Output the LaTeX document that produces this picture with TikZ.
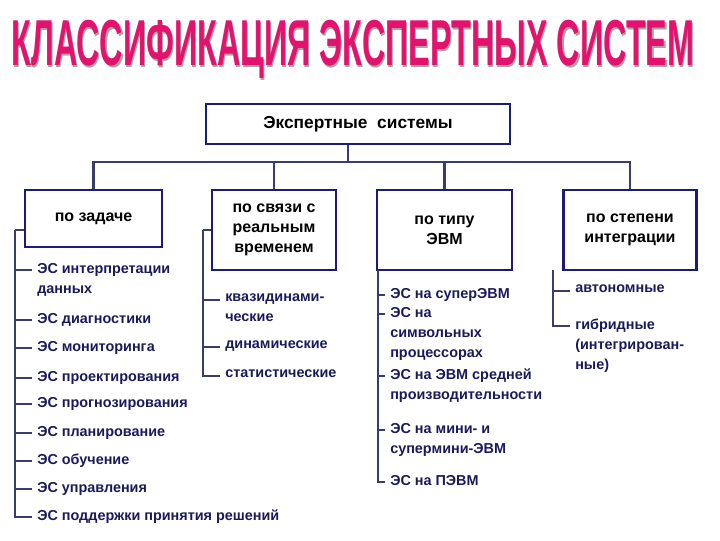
\documentclass[tikz,border=0pt]{standalone}
\usepackage{fontspec}
\setmainfont{Liberation Sans}
\usetikzlibrary{calc}
\definecolor{navy}{HTML}{1C1C78}
\definecolor{wire}{HTML}{3C3C6C}
\definecolor{itemc}{HTML}{1A1A5A}
\definecolor{pinkc}{HTML}{E3126E}

\begin{document}
\begin{tikzpicture}[
  x=0.75pt, y=-0.75pt,
  box/.style={draw=navy, line width=1.8pt, fill=white, font=\bfseries\fontsize{12}{15}\selectfont,
    align=center, inner sep=0pt},
  item/.style={anchor=north west, inner sep=0pt, align=left, text=itemc,
    font=\bfseries\fontsize{10.8}{15}\selectfont},
  tree/.style={draw=wire, line width=1.8pt},
]

\useasboundingbox (0,0) rectangle (720,540);

% title with its shadow
\node (title) at (353,50) {\resizebox{512pt}{34pt}{\bfseries
  \rlap{\kern0.35pt\raisebox{-0.35pt}{\color{gray!70}КЛАССИФИКАЦИЯ ЭКСПЕРТНЫХ СИСТЕМ}}%
  \color{pinkc}КЛАССИФИКАЦИЯ ЭКСПЕРТНЫХ СИСТЕМ}};

% boxes
\node[box, minimum width=228pt, minimum height=30pt, font=\bfseries\fontsize{13}{15}\selectfont]
  (top) at (358,124) {Экспертные\ \ системы};
\node[box, minimum width=103pt, minimum height=43pt] (task) at (93.5,218.5) {по задаче};
\node[box, minimum width=93pt, minimum height=60pt] (rt) at (274,230) {по связи с\\реальным\\временем};
\node[box, minimum width=101pt, minimum height=60pt] (evm) at (444.5,230) {по типу\\ЭВМ};
\node[box, minimum width=100pt, minimum height=60pt] (integ) at (630,230) {по степени\\интеграции};

% trunk
\coordinate (hub) at (348,162);
\draw[tree] (top.south -| hub) -- (hub);
\draw[tree] (task.north) |- (hub) -| (integ.north);
\draw[tree] (rt.north) -- (rt.north |- hub);
\draw[tree] (evm.north) -- (evm.north |- hub);

% items
\node[item] (t1) at (37,263) {ЭС интерпретации\\данных};
\node[item] (t2) at (37,313) {ЭС диагностики};
\node[item] (t3) at (37,341) {ЭС мониторинга};
\node[item] (t4) at (37,371) {ЭС проектирования};
\node[item] (t5) at (37,397) {ЭС прогнозирования};
\node[item] (t6) at (37,426) {ЭС планирование};
\node[item] (t7) at (37,454) {ЭС обучение};
\node[item] (t8) at (37,482) {ЭС управления};
\node[item] (t9) at (37,510) {ЭС поддержки принятия решений};

\node[item] (r1) at (225,293) {квазидинами-\\ческие};
\node[item] (r2) at (225,340) {динамические};
\node[item] (r3) at (225,369) {статистические};

\node[item] (e1) at (390,288) {ЭС на суперЭВМ};
\node[item] (e2) at (390,307) {ЭС на\\символьных\\процессорах};
\node[item] (e3) at (390,369) {ЭС на ЭВМ средней\\производительности};
\node[item] (e4) at (390,423) {ЭС на мини- и\\супермини-ЭВМ};
\node[item] (e5) at (390,475) {ЭС на ПЭВМ};

\node[item] (g1) at (575,284) {автономные};
\node[item] (g2) at (575,319) {гибридные\\(интегрирован-\\ные)};

% brackets
\coordinate (tk) at (15,230);
\draw[tree] (tk) -- (task.west |- tk);
\foreach \n in {t1,t2,t3,t4,t5,t6,t7,t8,t9}
  \draw[tree] (tk) |- ($(\n.north west)+(-5,7)$);
\coordinate (rk) at (203,230);
\draw[tree] (rk) -- (rt.west |- rk);
\foreach \n in {r1,r2,r3}
  \draw[tree] (rk) |- ($(\n.north west)+(-5,7)$);
\coordinate (ek) at (378,270);
\foreach \n in {e1,e2,e3,e4,e5}
  \draw[tree] (ek) |- ($(\n.north west)+(-5,7)$);
\coordinate (gk) at (553,270);
\foreach \n in {g1,g2}
  \draw[tree] (gk) |- ($(\n.north west)+(-5,7)$);

\end{tikzpicture}
\end{document}
